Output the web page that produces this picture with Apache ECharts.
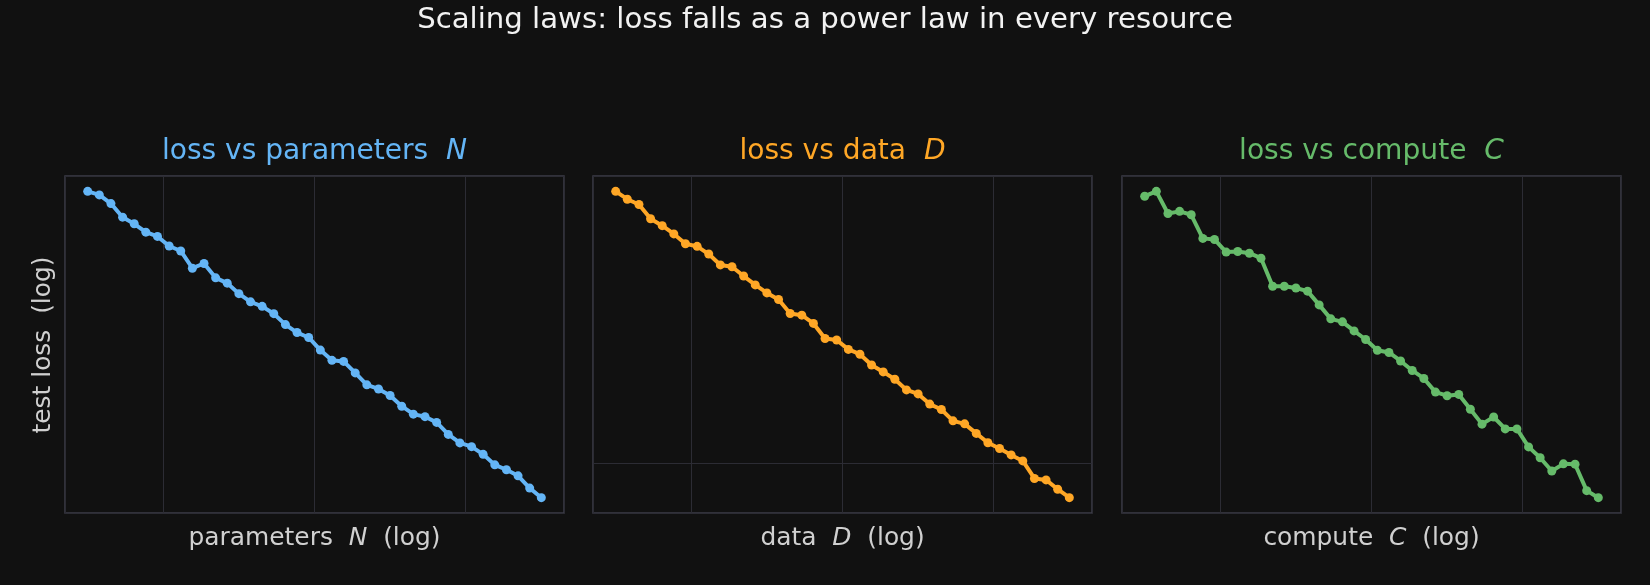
<!DOCTYPE html>
<html>
<head>
<meta charset="utf-8">
<script src="https://cdn.jsdelivr.net/npm/echarts@6/dist/echarts.min.js"></script>
<style>
html,body{margin:0;padding:0;background:#111111;}
#chart{width:1650px;height:585px;}
</style>
</head>
<body>
<div id="chart"></div>
<script>
// ---- data ----
const suptitle = 'Scaling laws: loss falls as a power law in every resource';
const panelNames = ['parameters', 'data', 'compute'];
const panelSymbols = ['N', 'D', 'C'];
const panelColors = ['#64b5f6', '#ffa726', '#66bb6a'];

const xN = [3.162e5,3.775e5,4.506e5,5.380e5,6.423e5,7.666e5,9.151e5,
  1.093e6,1.304e6,1.557e6,1.859e6,2.219e6,2.649e6,3.162e6,3.775e6,4.506e6,5.380e6,6.423e6,7.666e6,9.151e6,
  1.093e7,1.304e7,1.557e7,1.859e7,2.219e7,2.649e7,3.162e7,3.775e7,4.506e7,5.380e7,6.423e7,7.666e7,9.151e7,
  1.093e8,1.304e8,1.557e8,1.859e8,2.219e8,2.649e8,3.162e8];
const xD = [3.162e8,3.775e8,4.506e8,5.380e8,6.423e8,7.666e8,9.151e8,
  1.093e9,1.304e9,1.557e9,1.859e9,2.219e9,2.649e9,3.162e9,3.775e9,4.506e9,5.380e9,6.423e9,7.666e9,9.151e9,
  1.093e10,1.304e10,1.557e10,1.859e10,2.219e10,2.649e10,3.162e10,3.775e10,4.506e10,5.380e10,6.423e10,7.666e10,9.151e10,
  1.093e11,1.304e11,1.557e11,1.859e11,2.219e11,2.649e11,3.162e11];
const xC = [3.162e-5,3.775e-5,4.506e-5,5.380e-5,6.423e-5,7.666e-5,9.151e-5,
  1.093e-4,1.304e-4,1.557e-4,1.859e-4,2.219e-4,2.649e-4,3.162e-4,3.775e-4,4.506e-4,5.380e-4,6.423e-4,7.666e-4,9.151e-4,
  1.093e-3,1.304e-3,1.557e-3,1.859e-3,2.219e-3,2.649e-3,3.162e-3,3.775e-3,4.506e-3,5.380e-3,6.423e-3,7.666e-3,9.151e-3,
  1.093e-2,1.304e-2,1.557e-2,1.859e-2,2.219e-2,2.649e-2,3.162e-2];

const lossN = [4.383,4.356,4.292,4.193,4.146,4.087,4.057,3.991,3.957,3.842,
  3.873,3.779,3.745,3.678,3.627,3.599,3.554,3.488,3.441,3.412,
  3.339,3.281,3.275,3.211,3.146,3.124,3.089,3.033,2.992,2.979,
  2.950,2.890,2.848,2.830,2.793,2.743,2.720,2.692,2.636,2.593];
const lossD = [1.789,1.759,1.739,1.687,1.662,1.633,1.599,1.590,1.564,1.528,
  1.522,1.492,1.464,1.439,1.419,1.377,1.372,1.348,1.305,1.301,
  1.275,1.262,1.233,1.215,1.196,1.169,1.159,1.134,1.121,1.094,
  1.087,1.065,1.044,1.031,1.017,1.004,0.967,0.964,0.945,0.928];
const lossC = [3.217,3.236,3.151,3.159,3.146,3.058,3.054,3.008,3.010,3.004,
  2.986,2.887,2.887,2.881,2.870,2.823,2.776,2.766,2.736,2.708,
  2.673,2.666,2.639,2.609,2.584,2.542,2.531,2.535,2.490,2.446,
  2.467,2.432,2.432,2.380,2.349,2.312,2.332,2.331,2.258,2.239];

const xs = [xN, xD, xC];
const ys = [lossN, lossD, lossC];

// ---- layout ----
const gridLefts = [65, 593, 1122];
const gridW = 499, gridTop = 176, gridH = 337;

function padLog(arr) {
  const lo = Math.log10(Math.min(...arr)), hi = Math.log10(Math.max(...arr));
  const p = (hi - lo) * 0.05;
  return [Math.pow(10, lo - p), Math.pow(10, hi + p)];
}

const grids = [], xAxes = [], yAxes = [], series = [], graphics = [];
for (let i = 0; i < 3; i++) {
  grids.push({left: gridLefts[i], top: gridTop, width: gridW, height: gridH,
    show: true, borderColor: '#3d3d48', borderWidth: 1.5, backgroundColor: 'transparent', containLabel: false});
  const xe = padLog(xs[i]), ye = padLog(ys[i]);
  xAxes.push({type: 'log', logBase: 10, gridIndex: i, min: xe[0], max: xe[1],
    axisLine: {show: false}, axisTick: {show: false}, axisLabel: {show: false},
    splitLine: {show: true, lineStyle: {color: '#2c2c34', width: 1}}, minorSplitLine: {show: false}});
  yAxes.push({type: 'log', logBase: 10, gridIndex: i, min: ye[0], max: ye[1],
    axisLine: {show: false}, axisTick: {show: false}, axisLabel: {show: false},
    splitLine: {show: true, lineStyle: {color: '#2c2c34', width: 1}}, minorSplitLine: {show: false}});
  series.push({type: 'line', xAxisIndex: i, yAxisIndex: i,
    data: xs[i].map((v, k) => [v, ys[i][k]]),
    symbol: 'circle', symbolSize: 9, showSymbol: true,
    itemStyle: {color: panelColors[i]},
    lineStyle: {color: panelColors[i], width: 4},
    z: 3});
  const cx = gridLefts[i] + gridW / 2;
  graphics.push({type: 'text', x: cx, y: 151.5, z: 10,
    style: {text: 'loss vs ' + panelNames[i] + '  {it|' + panelSymbols[i] + '}',
      fill: panelColors[i], font: '28.1px "DejaVu Sans"', align: 'center', verticalAlign: 'middle',
      rich: {it: {fontStyle: 'italic', fontSize: 28.1, fontFamily: 'DejaVu Sans', fill: panelColors[i]}}}});
  graphics.push({type: 'text', x: cx, y: 539, z: 10,
    style: {text: panelNames[i] + '  {it|' + panelSymbols[i] + '}  (log)',
      fill: '#d0d0d0', font: '24.9px "DejaVu Sans"', align: 'center', verticalAlign: 'middle',
      rich: {it: {fontStyle: 'italic', fontSize: 24.9, fontFamily: 'DejaVu Sans', fill: '#d0d0d0'}}}});
}
graphics.push({type: 'text', x: 825, y: 20, z: 10,
  style: {text: suptitle, fill: '#f2f2f2', font: '29.2px "DejaVu Sans"', align: 'center', verticalAlign: 'middle'}});
graphics.push({type: 'text', x: 43.5, y: 345, rotation: Math.PI / 2, z: 10,
  style: {text: 'test loss  (log)', fill: '#d0d0d0', font: '24.9px "DejaVu Sans"', align: 'center', verticalAlign: 'middle'}});

const chart = echarts.init(document.getElementById('chart'), null, {renderer: 'canvas'});
chart.setOption({
  backgroundColor: '#111111',
  animation: false,
  grid: grids,
  xAxis: xAxes,
  yAxis: yAxes,
  series: series,
  graphic: graphics
});
</script>
</body>
</html>
